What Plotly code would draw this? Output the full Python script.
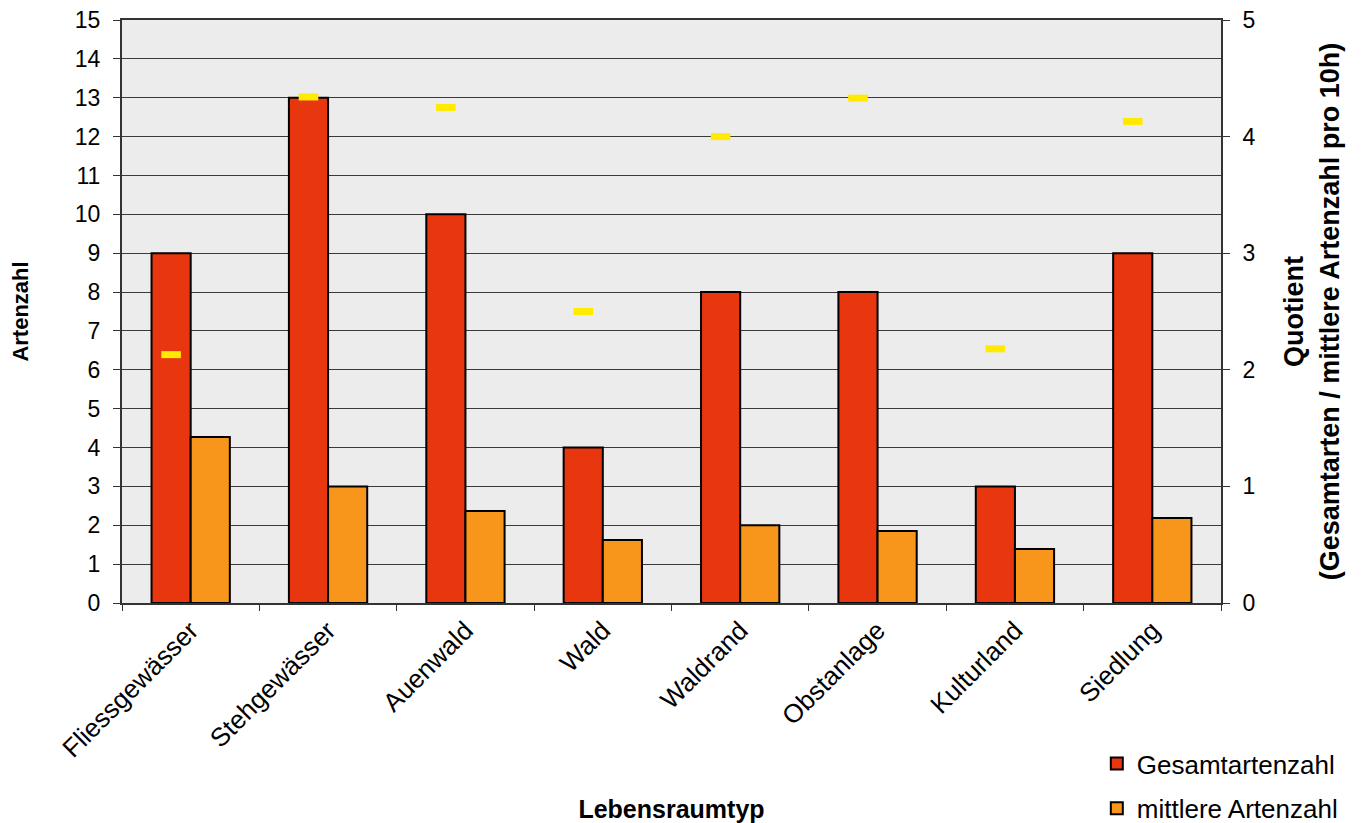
import plotly.graph_objects as go

categories = ["Fliessgewässer", "Stehgewässer", "Auenwald", "Wald", "Waldrand",
              "Obstanlage", "Kulturland", "Siedlung"]
gesamt = [9, 13, 10, 4, 8, 8, 3, 9]
mittlere = [4.27, 3.0, 2.37, 1.62, 2.0, 1.85, 1.39, 2.19]
quotient = [2.13, 4.34, 4.25, 2.50, 4.0, 4.33, 2.18, 4.13]

FONT = "Liberation Sans, Arial, sans-serif"
RED = "#E8360E"
ORANGE = "#F7961A"
YELLOW = "#FFEA00"

fig = go.Figure()
fig.add_trace(go.Bar(x=categories, y=gesamt, name="Gesamtartenzahl",
                     marker=dict(color=RED, line=dict(color="black", width=2)),
                     offsetgroup="a", alignmentgroup="g", legendgroup="g1"))
fig.add_trace(go.Bar(x=categories, y=mittlere, name="mittlere Artenzahl",
                     marker=dict(color=ORANGE, line=dict(color="black", width=2)),
                     offsetgroup="b", alignmentgroup="g", legendgroup="g2"))
fig.add_trace(go.Scatter(x=categories, y=quotient, name="Quotient", yaxis="y2",
                         mode="markers", showlegend=False,
                         offsetgroup="a", alignmentgroup="g",
                         marker=dict(symbol="line-ew", size=14,
                                     line=dict(color=YELLOW, width=7))))

fig.update_layout(
    width=1353, height=815,
    margin=dict(l=114, r=140, t=12, b=220, autoexpand=False),
    paper_bgcolor="white",
    plot_bgcolor="#EDECEC",
    barmode="group", scattermode="group",
    bargap=0.43, bargroupgap=0,
    font=dict(family=FONT, size=23, color="black"),
    xaxis=dict(
        type="category", tickson="boundaries", ticks="outside", ticklen=6,
        tickcolor="#333", showline=True, linecolor="#333", linewidth=2,
        mirror=True,
        showgrid=False, tickangle=-45, tickfont=dict(size=26), automargin=False,
        title=dict(text="<b>Lebensraumtyp</b>", font=dict(size=25), standoff=40),
    ),
    yaxis=dict(
        range=[0, 15], dtick=1, ticks="outside", ticklen=7, tickcolor="#333",
        showline=True, linecolor="#333", linewidth=2,
        showgrid=True, gridcolor="#3a3a3a", gridwidth=1,
        tickfont=dict(size=23), zeroline=False, automargin=False,
        ticklabelstandoff=8, ticklabeloverflow="allow",
        title=dict(text="<b>Artenzahl</b>", font=dict(size=22), standoff=45),
    ),
    yaxis2=dict(
        range=[0, 5], dtick=1, overlaying="y", side="right",
        ticks="outside", ticklen=7, tickcolor="#333",
        showline=True, linecolor="#333", linewidth=2, showgrid=False,
        zeroline=False, tickfont=dict(size=23), automargin=False,
        ticklabelstandoff=8, ticklabeloverflow="allow",
        title=dict(text="<b>Quotient<br>(Gesamtarten / mittlere Artenzahl pro 10h)</b>",
                   font=dict(size=27), standoff=30),
    ),
    legend=dict(x=0.887, y=-0.235, xanchor="left", yanchor="top",
                bgcolor="rgba(0,0,0,0)", font=dict(size=26),
                itemwidth=30, traceorder="grouped", tracegroupgap=8),
)

fig.write_html("out.html")
